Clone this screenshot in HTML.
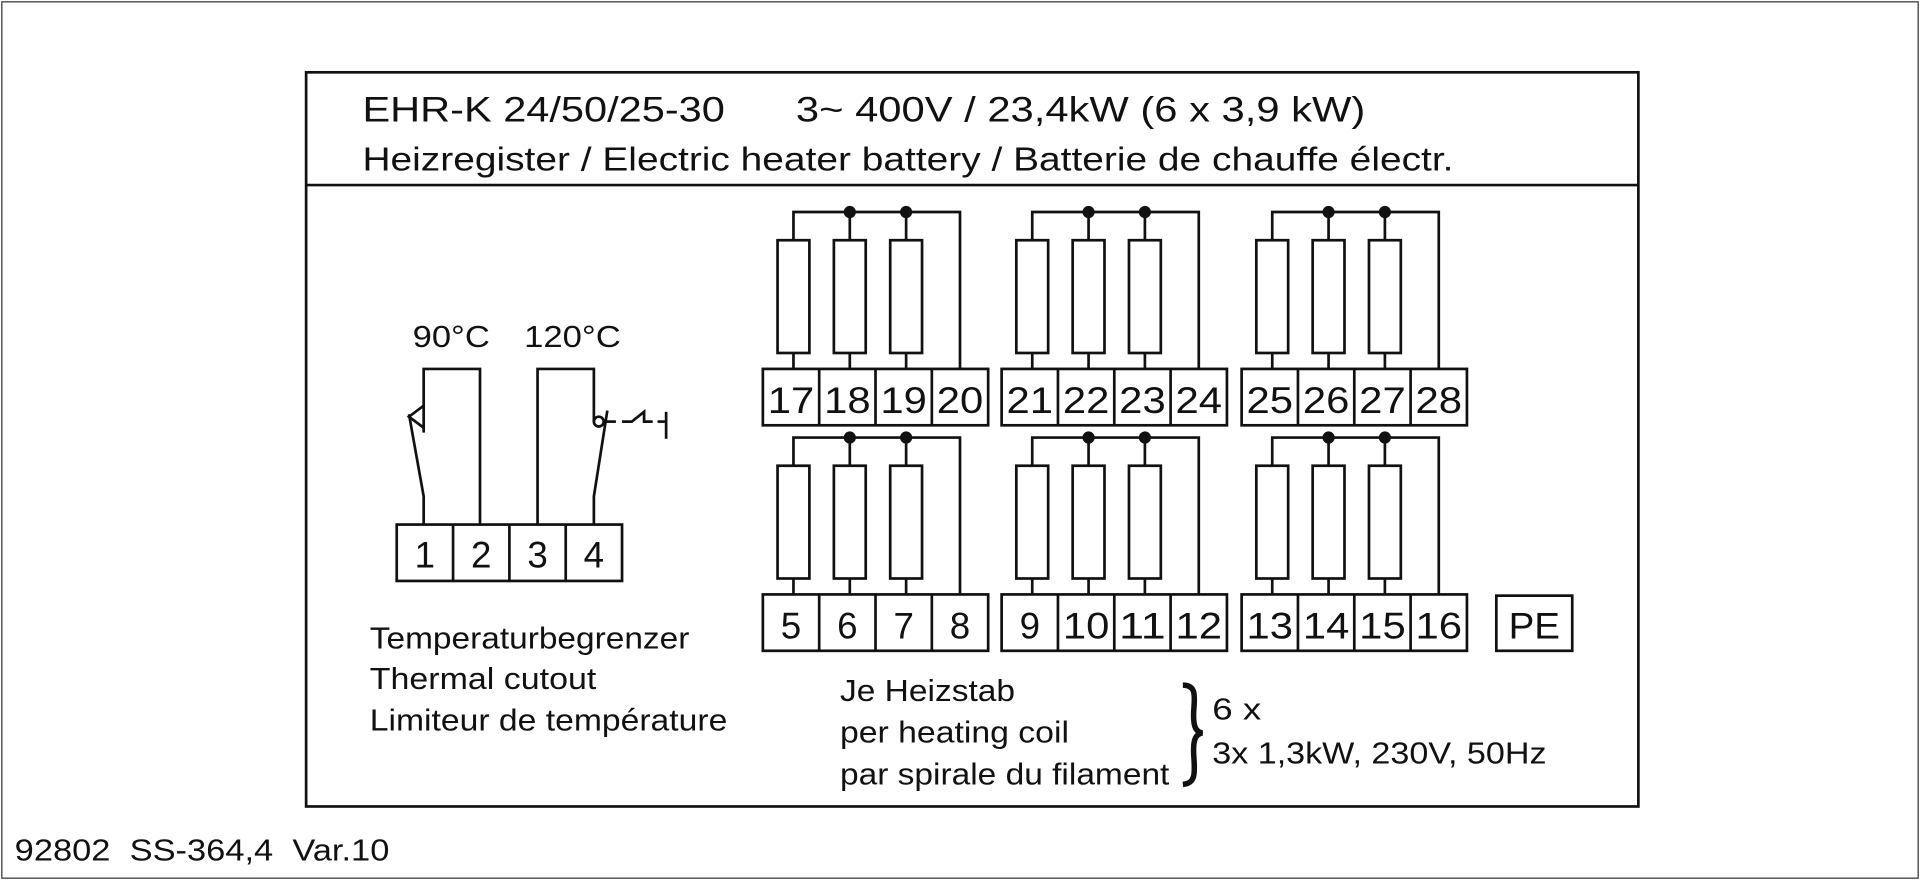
<!DOCTYPE html>
<html><head><meta charset="utf-8"><style>
html,body{margin:0;padding:0;background:#fff}
svg{display:block}
text{font-family:"Liberation Sans",Arial,sans-serif;fill:#111}
</style></head><body>
<svg width="1920" height="880" viewBox="0 0 1568 718" xmlns="http://www.w3.org/2000/svg" preserveAspectRatio="none">
<rect x="1.5" y="1.5" width="1565" height="715" fill="none" stroke="#333" stroke-width="1"/>
<g fill="none" stroke="#111" stroke-width="2.2">
<rect x="250" y="59" width="1088" height="599"/>
<line x1="250" y1="151" x2="1338" y2="151"/>
</g>
<text x="296" y="99" font-size="29" textLength="296" lengthAdjust="spacingAndGlyphs">EHR-K 24/50/25-30</text>
<text x="650" y="99" font-size="29" textLength="465" lengthAdjust="spacingAndGlyphs">3~ 400V / 23,4kW (6 x 3,9 kW)</text>
<text x="296" y="139" font-size="27" textLength="891" lengthAdjust="spacingAndGlyphs">Heizregister / Electric heater battery / Batterie de chauffe électr.</text>

<!-- thermal -->
<text x="337" y="283" font-size="25" textLength="63" lengthAdjust="spacingAndGlyphs">90°C</text>
<text x="428" y="283" font-size="25" textLength="79" lengthAdjust="spacingAndGlyphs">120°C</text>
<g fill="none" stroke="#111" stroke-width="2.2">
<polyline points="346,353 346,301 392,301 392,428"/>
<polyline points="346,331 334,340 346,349"/>
<polyline points="346,428 346,405 334,338"/>
<polyline points="439,428 439,301 485,301 485,344"/>
<circle cx="489" cy="344" r="4"/>
<polyline points="485,428 485,405 496,335"/>
<line x1="494" y1="344" x2="503" y2="344"/>
<polyline points="508,344 516,344 526,336 526,344 533,344"/>
<line x1="537" y1="344" x2="544" y2="344"/>
<line x1="544" y1="336" x2="544" y2="358"/>
<rect x="324" y="428" width="184" height="46"/>
<line x1="370" y1="428" x2="370" y2="474"/>
<line x1="416" y1="428" x2="416" y2="474"/>
<line x1="462" y1="428" x2="462" y2="474"/>
</g>
<g font-size="30" text-anchor="middle">
<text x="347" y="463">1</text><text x="393" y="463">2</text><text x="439" y="463">3</text><text x="485" y="463">4</text>
</g>
<text x="302" y="529" font-size="25" textLength="261" lengthAdjust="spacingAndGlyphs">Temperaturbegrenzer</text>
<text x="302" y="562" font-size="25" textLength="185" lengthAdjust="spacingAndGlyphs">Thermal cutout</text>
<text x="302" y="596" font-size="25" textLength="292" lengthAdjust="spacingAndGlyphs">Limiteur de température</text>

<!-- heater blocks -->
<defs>
<g id="blk">
<g fill="none" stroke="#111" stroke-width="2.2">
<polyline points="25,23 25,0 161,0 161,128"/>
<line x1="71" y1="0" x2="71" y2="23"/>
<line x1="117" y1="0" x2="117" y2="23"/>
<rect x="12" y="23" width="26" height="92"/>
<rect x="58" y="23" width="26" height="92"/>
<rect x="104" y="23" width="26" height="92"/>
<line x1="25" y1="115" x2="25" y2="128"/>
<line x1="71" y1="115" x2="71" y2="128"/>
<line x1="117" y1="115" x2="117" y2="128"/>
<rect x="0" y="128" width="184" height="46"/>
<line x1="46" y1="128" x2="46" y2="174"/>
<line x1="92" y1="128" x2="92" y2="174"/>
<line x1="138" y1="128" x2="138" y2="174"/>
</g>
<circle cx="71" cy="0" r="5" fill="#111"/>
<circle cx="117" cy="0" r="5" fill="#111"/>
</g>
</defs>
<use href="#blk" x="623" y="173"/>
<use href="#blk" x="818" y="173"/>
<use href="#blk" x="1014" y="173"/>
<use href="#blk" x="623" y="357"/>
<use href="#blk" x="818" y="357"/>
<use href="#blk" x="1014" y="357"/>
<g font-size="30" text-anchor="middle">
<text x="646" y="337" textLength="38" lengthAdjust="spacingAndGlyphs">17</text><text x="692" y="337" textLength="38" lengthAdjust="spacingAndGlyphs">18</text><text x="738" y="337" textLength="38" lengthAdjust="spacingAndGlyphs">19</text><text x="784" y="337" textLength="38" lengthAdjust="spacingAndGlyphs">20</text>
<text x="841" y="337" textLength="38" lengthAdjust="spacingAndGlyphs">21</text><text x="887" y="337" textLength="38" lengthAdjust="spacingAndGlyphs">22</text><text x="933" y="337" textLength="38" lengthAdjust="spacingAndGlyphs">23</text><text x="979" y="337" textLength="38" lengthAdjust="spacingAndGlyphs">24</text>
<text x="1037" y="337" textLength="38" lengthAdjust="spacingAndGlyphs">25</text><text x="1083" y="337" textLength="38" lengthAdjust="spacingAndGlyphs">26</text><text x="1129" y="337" textLength="38" lengthAdjust="spacingAndGlyphs">27</text><text x="1175" y="337" textLength="38" lengthAdjust="spacingAndGlyphs">28</text>
<text x="646" y="521">5</text><text x="692" y="521">6</text><text x="738" y="521">7</text><text x="784" y="521">8</text>
<text x="841" y="521">9</text><text x="887" y="521" textLength="38" lengthAdjust="spacingAndGlyphs">10</text><text x="933" y="521" textLength="38" lengthAdjust="spacingAndGlyphs">11</text><text x="979" y="521" textLength="38" lengthAdjust="spacingAndGlyphs">12</text>
<text x="1037" y="521" textLength="38" lengthAdjust="spacingAndGlyphs">13</text><text x="1083" y="521" textLength="38" lengthAdjust="spacingAndGlyphs">14</text><text x="1129" y="521" textLength="38" lengthAdjust="spacingAndGlyphs">15</text><text x="1175" y="521" textLength="38" lengthAdjust="spacingAndGlyphs">16</text>
<text x="1253" y="521" textLength="42" lengthAdjust="spacingAndGlyphs">PE</text>
</g>
<rect x="1222" y="486" width="62" height="45" fill="none" stroke="#111" stroke-width="2.2"/>

<text x="686" y="572" font-size="25" textLength="143" lengthAdjust="spacingAndGlyphs">Je Heizstab</text>
<text x="686" y="606" font-size="25" textLength="187" lengthAdjust="spacingAndGlyphs">per heating coil</text>
<text x="686" y="640" font-size="25" textLength="269" lengthAdjust="spacingAndGlyphs">par spirale du filament</text>
<path d="M966,559 C976,559 976,566 975,578 C974,592 976,597 982,598 C976,599 974,604 975,618 C976,632 976,639 966,640" fill="none" stroke="#111" stroke-width="4.5"/>
<text x="990" y="587" font-size="25" textLength="40" lengthAdjust="spacingAndGlyphs">6 x</text>
<text x="990" y="623" font-size="25" textLength="273" lengthAdjust="spacingAndGlyphs">3x 1,3kW, 230V, 50Hz</text>

<text x="12" y="702" font-size="25" xml:space="preserve" textLength="306" lengthAdjust="spacingAndGlyphs">92802  SS-364,4  Var.10</text>
</svg>
</body></html>
